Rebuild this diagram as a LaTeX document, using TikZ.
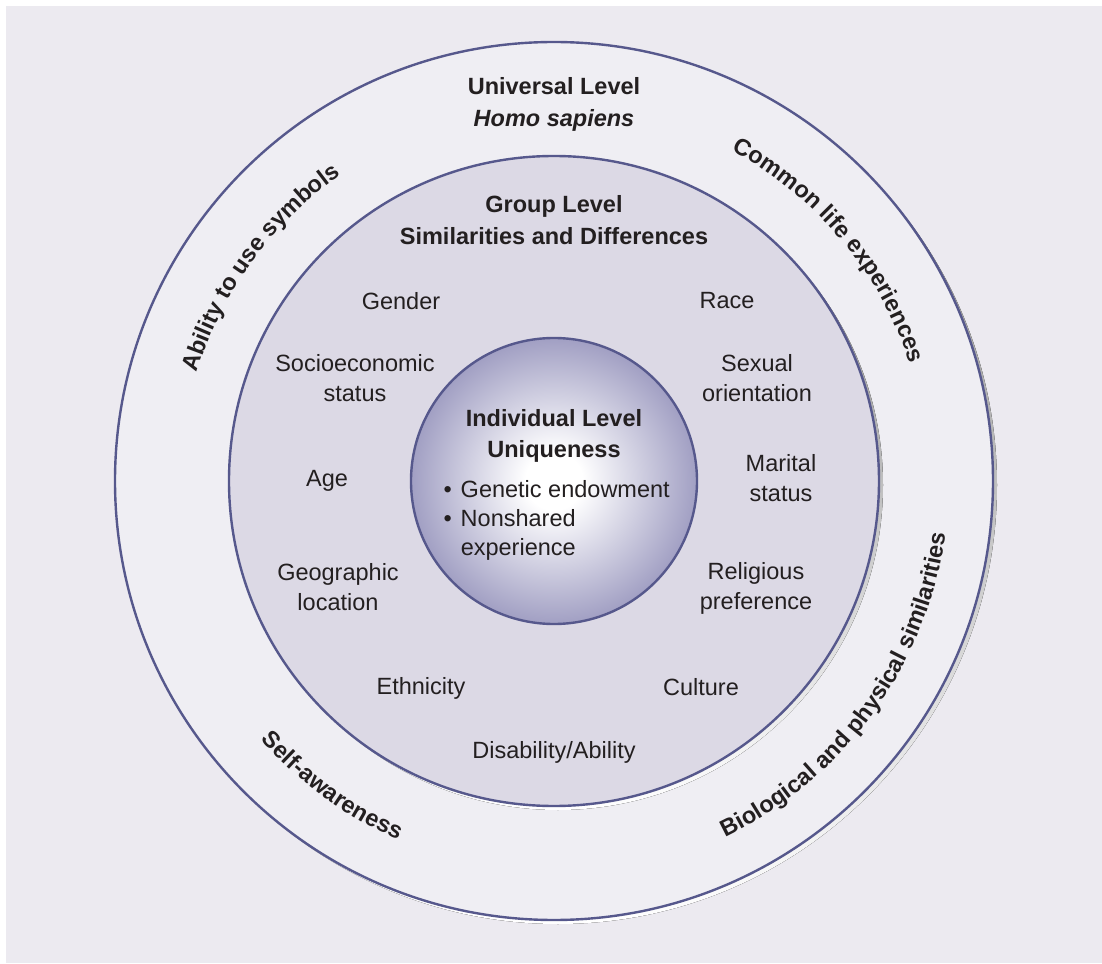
\documentclass[tikz,border=0pt]{standalone}
\usepackage{fontspec}
\setmainfont{Liberation Sans}
\usetikzlibrary{decorations.text}

\definecolor{paper}{HTML}{ECEAF0}
\definecolor{ringfill}{HTML}{EFEEF3}
\definecolor{groupfill}{HTML}{DCD9E5}
\definecolor{rim}{HTML}{56588C}
\definecolor{shade}{HTML}{CFCFD4}
\definecolor{corefill}{HTML}{A19FC3}
\definecolor{ink}{HTML}{231F20}

\pgfdeclareradialshading{coreglow}{\pgfpoint{0bp}{0bp}}{%
  color(0bp)=(white); color(5bp)=(white); color(25bp)=(corefill); color(50bp)=(corefill)}

\newcommand\labelsize{\fontsize{23.5}{30}\selectfont}
\newcommand\arcfont{\bfseries\fontsize{23.5}{28}\selectfont}
\newcommand\itembullet{\textbullet\hspace{9pt}}

\begin{document}
\begin{tikzpicture}[x=1pt,y=1pt,
  level/.style={circle, draw=rim, line width=2.4pt, inner sep=0pt, outer sep=0pt},
  lbl/.style={font=\labelsize, text=ink, align=center},
  head/.style={font=\bfseries\fontsize{23.5}{31.5}\selectfont, text=ink, align=center},
  arctext/.style={decorate, decoration={text along path, text align=center,
      text color=ink, text={|\arcfont|#1}}}
]
% page and frame
\fill[white] (-554,-482) rectangle (548,481);
\fill[paper] (-548,-482) rectangle (548,475);
\useasboundingbox (-554,-482) rectangle (548,481);

% universal level
\fill[shade] (4,-4) circle (439);
\node[level, fill=ringfill, minimum size=878] (universal) at (0,0) {};

% group level
\fill[shade] (4,-4) circle (325);
\node[level, fill=groupfill, minimum size=650] (group) at (0,0) {};

% individual level
\node[level, shading=coreglow, minimum size=286] (individual) at (0,0) {};

% headings
\node[head] (uhead) at (0,376.5) {Universal Level\\\textit{Homo sapiens}};
\node[head] (ghead) at (0,261) {Group Level\\Similarities and Differences};
\node[head] (ihead) at (0,45) {Individual Level\\Uniqueness};

% individual features
\node[lbl, align=left, anchor=west, font=\fontsize{23.5}{29}\selectfont] (ilist) at (-114,-39)
  {\itembullet Genetic endowment\\\itembullet Nonshared\\\hphantom{\itembullet}experience};

% group characteristics
\node[lbl] (gender)    at (-153,180)   {Gender};
\node[lbl] (race)      at (173,180)    {Race};
\node[lbl] (ses)       at (-199,103)   {Socioeconomic\\status};
\node[lbl] (sexual)    at (203,103)    {Sexual\\orientation};
\node[lbl] (age)       at (-227,0)     {Age};
\node[lbl] (marital)   at (227,2.5)    {Marital\\status};
\node[lbl] (geo)       at (-216,-106.5){Geographic\\location};
\node[lbl] (religion)  at (202,-107.5) {Religious\\preference};
\node[lbl] (ethnicity) at (-133,-207)  {Ethnicity};
\node[lbl] (culture)   at (147,-206)   {Culture};
\node[lbl] (ability)   at (0,-271)     {Disability/Ability};

% universal traits set along the outer ring
\path[arctext={Ability to use symbols}] (174:373) arc[start angle=174, end angle=114, radius=373];
\path[arctext={Common life experiences}] (70:375) arc[start angle=70, end angle=10, radius=375];
\path[arctext={Biological and physical similarities}] (-76:395) arc[start angle=-76, end angle=4, radius=395];
\path[arctext={Self-awareness}] (209:391) arc[start angle=209, end angle=259, radius=391];
\end{tikzpicture}
\end{document}
